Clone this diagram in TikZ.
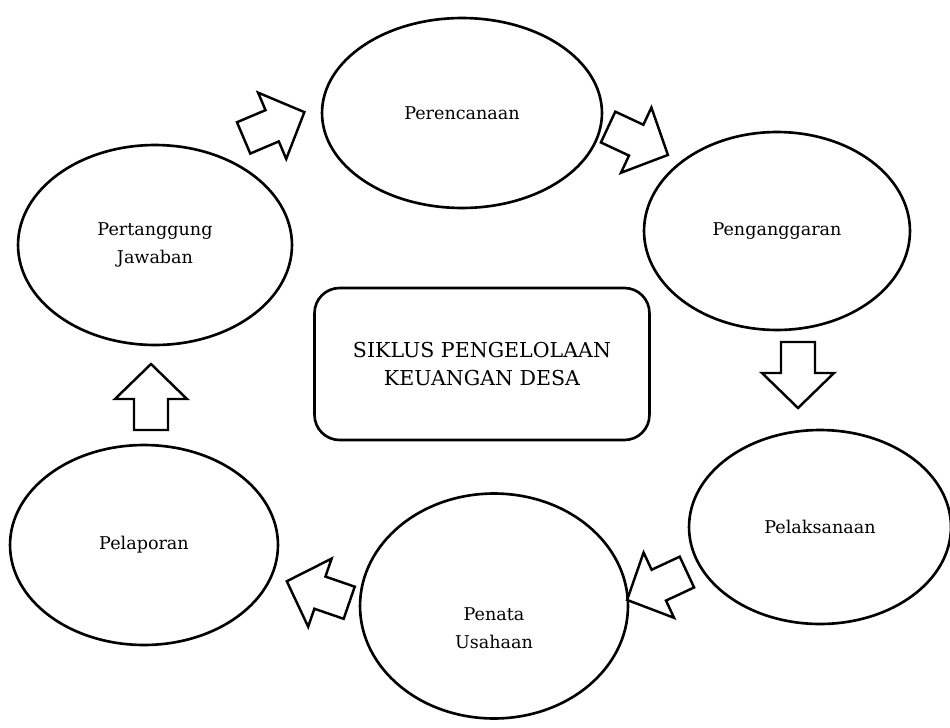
\documentclass[tikz,border=0pt]{standalone}
\usepackage{fontspec}
\setmainfont{DejaVu Serif}
\usetikzlibrary{shapes.geometric}
\tikzset{
  stage/.style={draw, ellipse, line width=1.5pt, inner sep=0pt, align=center,
    font=\fontsize{10}{16}\selectfont},
  titlebox/.style={draw, rectangle, rounded corners=0.5cm, line width=1.5pt,
    minimum width=6.7cm, minimum height=3.04cm, align=center,
    font=\fontsize{11.7}{16}\selectfont},
  blockarrow/.pic={
    \draw[line width=1.4pt, line join=miter] (-33,-17) -- (-2,-17) -- (-2,-36)
      -- (33,0) -- (-2,36) -- (-2,17) -- (-33,17) -- cycle;
  }
}
\begin{document}
\begin{tikzpicture}[x=0.02cm, y=-0.02cm]
\useasboundingbox (0,0) rectangle (950,727);

% tahapan siklus
\node[stage, minimum width=5.6cm, minimum height=3.8cm] (pere) at (462,113) {Perencanaan};
\node[stage, minimum width=5.32cm, minimum height=3.96cm] (pega) at (777,231) {Penganggaran};
\node[stage, minimum width=5.24cm, minimum height=3.88cm] (pela) at (820,527) {Pelaksanaan};
\node[stage, minimum width=5.36cm, minimum height=4.5cm] (peta) at (494,606) {};
\node[align=center, font=\fontsize{10}{16}\selectfont] (petatext) at (494,628) {Penata\\Usahaan};
\node[stage, minimum width=5.36cm, minimum height=4.0cm] (pelap) at (144,545) {Pelaporan};
\node[stage, minimum width=5.48cm, minimum height=4.0cm] (pert) at (155,245) {Pertanggung\\Jawaban};

% judul
\node[titlebox] (judul) at (482,364) {SIKLUS PENGELOLAAN\\KEUANGAN DESA};

% panah
\pic[rotate=23] at (274,125) {blockarrow};
\pic[rotate=-25] at (638,141) {blockarrow};
\pic[rotate=-90] at (798,375) {blockarrow};
\pic[rotate=-155] at (657,586) {blockarrow};
\pic[rotate=161] at (318,592) {blockarrow};
\pic[rotate=90] at (151,397) {blockarrow};
\end{tikzpicture}
\end{document}
